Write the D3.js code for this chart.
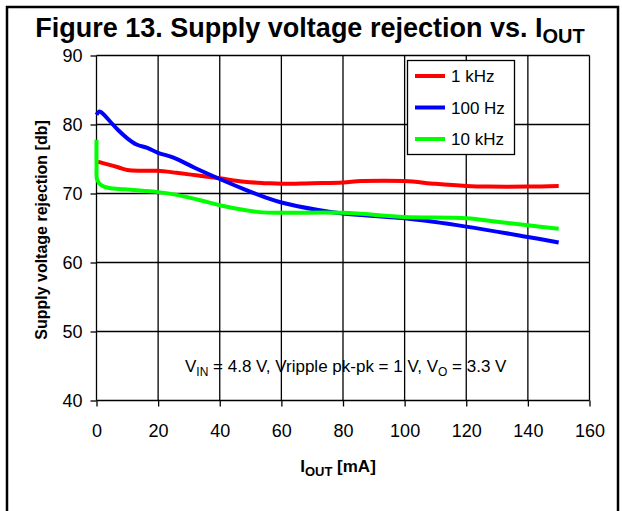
<!DOCTYPE html>
<html>
<head>
<title>Figure 13. Supply voltage rejection vs. IOUT</title>
<script src="https://d3js.org/d3.v7.min.js" charset="utf-8"></script>
<style>
body { margin: 0; background: white; font-family: Arial, "Liberation Sans", sans-serif; }
text { font-family: Arial, "Liberation Sans", sans-serif; fill: #000; }
.axis path { display: none; }
.axis line { stroke: #000; stroke-width: 1.3; }
.axis text { font-size: 18px; }
.grid line { stroke: #000; stroke-width: 1.3; }
</style>
</head>
<body>
<script>
// data: [I_OUT mA, rejection dB]
var red1k = [[0.5,74.6],[3,74.3],[7,73.8],[10,73.4],[15,73.3],[20,73.3],[26,73.0],[33,72.6],[40,72.2],
  [48,71.7],[55,71.5],[60,71.4],[70,71.5],[80,71.6],[86,71.8],[100,71.8],[110,71.4],[120,71.1],
  [127,71.0],[140,71.0],[150,71.1]];
var blue100 = [[0,81.4],[1,81.9],[2,81.6],[4.5,80.4],[7,79.2],[10,78.0],[13,77.1],[16.5,76.6],[20,75.9],
  [25,75.2],[32,73.7],[40,72.1],[48,70.6],[55,69.4],[60,68.7],[72,67.6],[80,67.1],[100,66.4],
  [120,65.2],[140,63.7],[150,62.9]];
var green10k = [[0,77.8],[0.02,74.0],[0.2,72.0],[1.5,71.2],[4,70.8],[9,70.6],[15,70.4],[20,70.2],[26,69.8],
  [33,69.1],[40,68.3],[48,67.6],[53,67.3],[60,67.2],[80,67.2],[100,66.6],[120,66.4],[130,65.9],
  [140,65.4],[150,64.9]];

var seriesNames = ["1 kHz", "100 Hz", "10 kHz"];
var seriesColors = ["#ff0000", "#0000ff", "#00ff00"];
var seriesData = [red1k, blue100, green10k];

var xTicks = [0,20,40,60,80,100,120,140,160];
var yTicks = [40,50,60,70,80,90];

var width = 622, height = 511;
var pl = 96.5, pr = 589.5, pt = 55.5, pb = 400.5;

var svg = d3.select("body").append("svg")
  .attr("width", width)
  .attr("height", height);

// outer frame (bottom runs off the picture)
svg.append("rect")
  .attr("x", 7).attr("y", 7)
  .attr("width", 611).attr("height", 540)
  .attr("fill", "none").attr("stroke", "#000").attr("stroke-width", 2.5);

// title
var title = svg.append("text")
  .attr("x", 310).attr("y", 37)
  .attr("text-anchor", "middle")
  .style("font-size", "27px").style("font-weight", "bold");
title.append("tspan").text("Figure 13. Supply voltage rejection vs. I");
title.append("tspan").attr("dy", 6).style("font-size", "20px").text("OUT");

var x = d3.scaleLinear().domain([0,160]).range([pl, pr]);
var y = d3.scaleLinear().domain([40,90]).range([pb, pt]);

// grid
var grid = svg.append("g").attr("class", "grid");
grid.selectAll(".v").data(xTicks).enter().append("line")
  .attr("x1", d => x(d)).attr("x2", d => x(d))
  .attr("y1", pt).attr("y2", pb);
grid.selectAll(".h").data(yTicks).enter().append("line")
  .attr("x1", pl).attr("x2", pr)
  .attr("y1", d => y(d)).attr("y2", d => y(d));

// axes
svg.append("g").attr("class", "axis")
  .attr("transform", "translate(0," + pb + ")")
  .call(d3.axisBottom(x).tickValues(xTicks).tickSize(6).tickPadding(18).tickFormat(d3.format("d")));
svg.append("g").attr("class", "axis")
  .attr("transform", "translate(" + pl + ",0)")
  .call(d3.axisLeft(y).tickValues(yTicks).tickSize(6).tickPadding(8).tickFormat(d3.format("d")));

// axis titles
var xt = svg.append("text")
  .attr("x", 338).attr("y", 472)
  .attr("text-anchor", "middle")
  .style("font-size", "17px").style("font-weight", "bold");
xt.append("tspan").text("I");
xt.append("tspan").attr("dy", 4).style("font-size", "13px").text("OUT");
xt.append("tspan").attr("dy", -4).text(" [mA]");

svg.append("text")
  .attr("transform", "translate(46.5," + ((pt + pb) / 2 + 2) + ") rotate(-90)")
  .attr("text-anchor", "middle")
  .style("font-size", "16px").style("font-weight", "bold")
  .text("Supply voltage rejection [db]");

// curves
var line = d3.line()
  .x(d => x(d[0])).y(d => y(d[1]))
  .curve(d3.curveCatmullRom.alpha(0.5));

svg.append("g").selectAll("path")
  .data(seriesData)
  .enter().append("path")
  .attr("d", line)
  .attr("fill", "none")
  .attr("stroke", (d, i) => seriesColors[i])
  .attr("stroke-width", 4)
  .attr("stroke-linejoin", "round");

// legend
var lg = svg.append("g");
lg.append("rect")
  .attr("x", 407.5).attr("y", 60.5).attr("width", 107).attr("height", 94)
  .attr("fill", "white").attr("stroke", "#000").attr("stroke-width", 1.3);
seriesNames.forEach(function(name, i) {
  var ly = 76 + i * 31.5;
  lg.append("line")
    .attr("x1", 415).attr("x2", 445).attr("y1", ly).attr("y2", ly)
    .attr("stroke", seriesColors[i]).attr("stroke-width", 4);
  lg.append("text")
    .attr("x", 451).attr("y", ly + 6)
    .style("font-size", "17px")
    .text(name);
});

// test condition note
var note = svg.append("text")
  .attr("x", 185).attr("y", 372)
  .style("font-size", "17px");
note.append("tspan").text("V");
note.append("tspan").attr("dy", 4).style("font-size", "12px").text("IN");
note.append("tspan").attr("dy", -4).text(" = 4.8 V, Vripple pk-pk = 1 V, V");
note.append("tspan").attr("dy", 4).style("font-size", "12px").text("O");
note.append("tspan").attr("dy", -4).text(" = 3.3 V");
</script>
</body>
</html>
